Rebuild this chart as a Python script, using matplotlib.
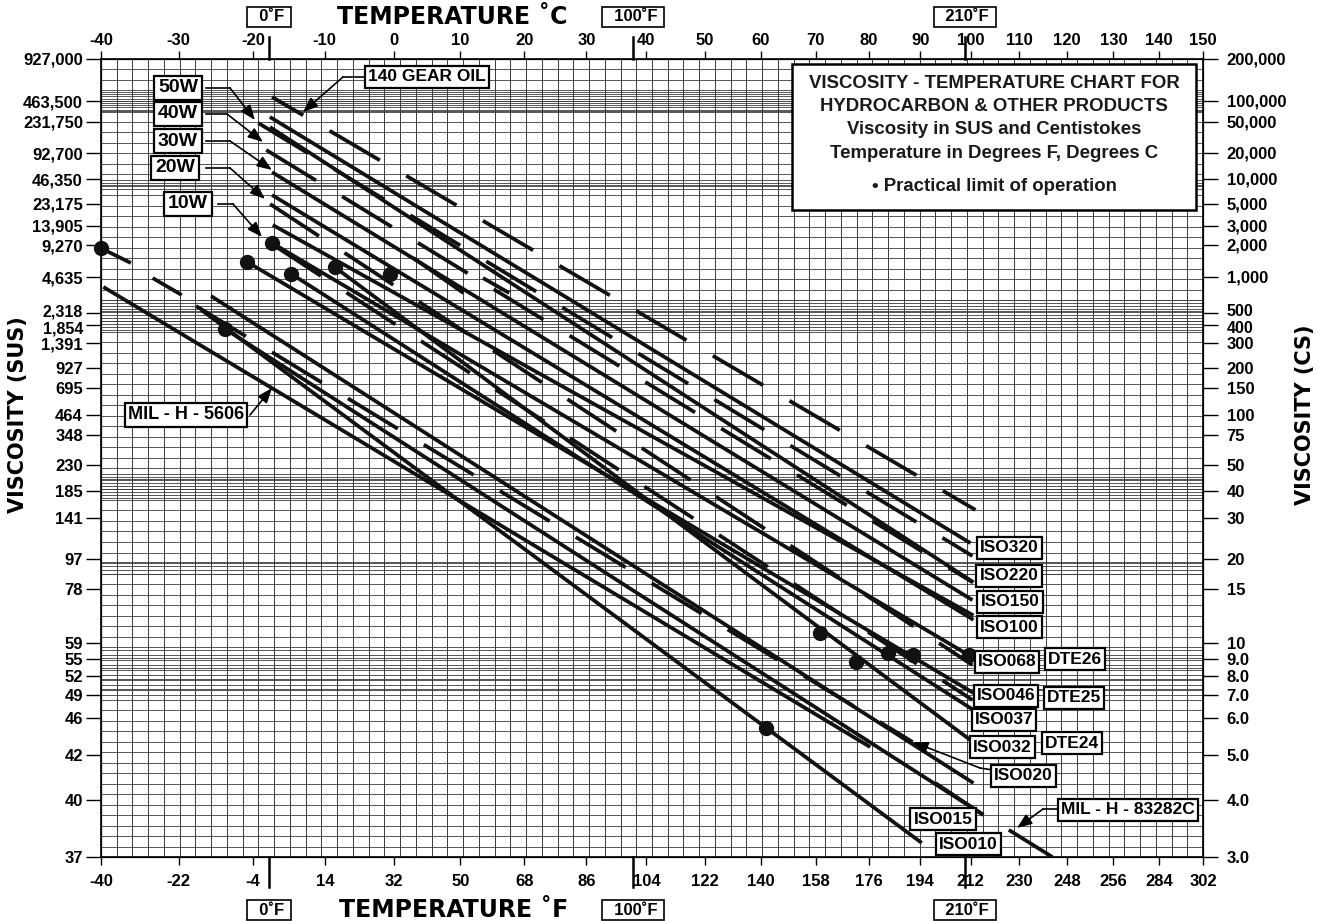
import numpy as np
import matplotlib
matplotlib.use("Agg")
import matplotlib.pyplot as plt
from matplotlib.transforms import ScaledTranslation

plt.rcParams['lines.scale_dashes'] = False
TXT = 'Liberation Sans'      # Arial-like bold for numbers and tags
HEAD = 'DejaVu Sans'         # wide heavy face for the axis titles

# axis tick values
temp_c = [-40, -30, -20, -10, 0, 10, 20, 30, 40, 50, 60, 70, 80, 90, 100, 110, 120, 130, 140, 150]
temp_f_labels = ['-40', '-22', '-4', '14', '32', '50', '68', '86', '104', '122', '140', '158',
                 '176', '194', '212', '230', '248', '256', '284', '302']
cs_ticks = [3, 4, 5, 6, 7, 8, 9, 10, 15, 20, 30, 40, 50, 75, 100, 150, 200, 300, 400, 500,
            1000, 2000, 3000, 5000, 10000, 20000, 50000, 100000, 200000]
cs_labels = ['3.0', '4.0', '5.0', '6.0', '7.0', '8.0', '9.0', '10', '15', '20', '30', '40', '50',
             '75', '100', '150', '200', '300', '400', '500', '1,000', '2,000', '3,000', '5,000',
             '10,000', '20,000', '50,000', '100,000', '200,000']
sus_labels = ['37', '40', '42', '46', '49', '52', '55', '59', '78', '97', '141', '185', '230',
              '348', '464', '695', '927', '1,391', '1,854', '2,318', '4,635', '9,270', '13,905',
              '23,175', '46,350', '92,700', '231,750', '463,500', '927,000']
# the printed viscosity scale is hand drawn: relative height of each CS tick
cs_scale_pos = [0, 57, 102, 139, 162, 181, 198, 214, 268, 298, 339, 366, 392, 422, 442, 469,
                489, 514, 532, 544, 580, 612, 631, 653, 678, 704, 735, 756, 798]

# solid product lines (deg C, cSt): start -> end
long_t0 = [-17.7, -17.7, -17.4, -17.4, -17.3, -17.4, -20.8, -14.7, -8.6, -25.7, -23.8, -27.0, -39.7]
long_v0 = [59000, 43100, 12000, 6410, 3070, 2087, 1384, 1067, 1241, 693, 375, 530, 825]
long_t1 = [100.0, 100.6, 100.4, 100.6, 100.6, 99.6, 100.6, 100.6, 100.0, 100.6, 102.6, 90.3, 80.3]
long_v1 = [23.4, 16.0, 13.8, 11.9, 12.3, 9.24, 7.10, 6.33, 5.38, 4.35, 3.71, 3.22, 5.2]

# dashed product lines: 140 gear oil, 50W, 40W, 20W, 10W, low-temperature fluid
dash_t0 = [-17.4, -19.3, -18.2, -18.3, -18.7, -27.7]
dash_v0 = [106800, 48500, 21860, 5430, 2322, 572]
dash_t1 = [101.0, 100.4, 100.4, 100.4, 100.4, 88.5]
dash_v1 = [32.7, 20.6, 16.0, 8.63, 6.77, 5.33]
dash_phase = [16, 0, 0, 60, 56, 0]

# loose short segments (deg C, cSt)
short_t0 = [2.9, 13.5, 107.8, 93.0, -39.8, -33.4]
short_v0 = [1510, 981, 3.44, 4.35, 1834, 981]
short_t1 = [10.5, 17.6, 116.9, 102.6, -36.2, -29.6]
short_v1 = [735, 735, 3.0, 3.71, 1355, 707]

# practical limit of operation
dot_t = [-40.0, -20.8, -17.4, -14.7, -8.6, -0.5, -23.8, 70.9, 77.6, 83.8, 88.6, 99.6, 61.0]
dot_v = [1875, 1384, 2087, 1067, 1241, 1067, 375, 10.8, 8.82, 9.36, 9.24, 9.24, 5.71]


def fwd_t(t):
    return np.log10(np.asarray(t, dtype=float) + 273.15)


def inv_t(u):
    return 10 ** np.asarray(u, dtype=float) - 273.15


def fwd_v(v):
    v = np.clip(np.asarray(v, dtype=float), 1e-6, None)
    return np.interp(np.log10(v), np.log10(cs_ticks), cs_scale_pos)


def inv_v(p):
    return 10 ** np.interp(np.asarray(p, dtype=float), cs_scale_pos, np.log10(cs_ticks))


W, H = 1322, 921
fig = plt.figure(figsize=(W / 100, H / 100), dpi=100)
L, R, T, B = 101, 1203, 59, 857
ax = fig.add_axes([L / W, 1 - B / H, (R - L) / W, (B - T) / H])
ax.set_xscale('function', functions=(fwd_t, inv_t))
ax.set_yscale('function', functions=(fwd_v, inv_v))
ax.set_xlim(-40, 150)
ax.set_ylim(3, 200000)


def px(x, y):
    # figure pixel (from top-left) -> axes fraction, for annotation layout
    return ((x - L) / (R - L), (B - y) / (B - T))


# graph paper
for xf in np.linspace(0, 1, 71):
    ax.plot([xf, xf], [0, 1], transform=ax.transAxes, color='#3a3a3a', lw=0.7, zorder=1)
hy = list(np.linspace(0, 1, 77))
for y0, y1, step in [(92, 112, 2.2), (180, 192, 3), (300, 332, 3), (474, 500, 3), (562, 576, 4), (650, 700, 5)]:
    for yy in np.arange(y0, y1, step):
        hy.append(px(L, yy)[1])
for yf in hy:
    ax.plot([0, 1], [yf, yf], transform=ax.transAxes, color='#3a3a3a', lw=0.6, zorder=1)

# lines and limit dots
for t0, v0, t1, v1 in zip(long_t0 + short_t0, long_v0 + short_v0, long_t1 + short_t1, long_v1 + short_v1):
    ax.plot([t0, t1], [v0, v1], color='#111111', lw=2.7, solid_capstyle='butt', zorder=3)
for t0, v0, t1, v1, ph in zip(dash_t0, dash_v0, dash_t1, dash_v1, dash_phase):
    ax.plot([t0, t1], [v0, v1], color='#111111', lw=2.7, dash_capstyle='butt',
            linestyle=(ph, (42, 22)), zorder=3)
ax.plot(dot_t, dot_v, 'o', color='#111111', ms=10, zorder=4, clip_on=False)

# ticks
ax.set_yticks(cs_ticks, sus_labels)
ax.set_xticks(temp_c, temp_f_labels)
ax.minorticks_off()
for s in ax.spines.values():
    s.set_linewidth(1.2)
ax.tick_params(axis='y', length=11, width=1, pad=2, labelsize=12)
ax.tick_params(axis='x', length=6, width=1, pad=6, labelsize=12)

ax2 = ax.twinx()
ax2.set_yscale('function', functions=(fwd_v, inv_v))
ax2.set_ylim(3, 200000)
ax2.set_yticks(cs_ticks, cs_labels)
ax2.minorticks_off()
ax2.tick_params(axis='y', length=11, width=1, pad=6, labelsize=12)
ax3 = ax.twiny()
ax3.set_xscale('function', functions=(fwd_t, inv_t))
ax3.set_xlim(-40, 150)
ax3.set_xticks(temp_c, [str(t) for t in temp_c])
ax3.minorticks_off()
ax3.tick_params(axis='x', length=6, width=1, pad=2, labelsize=12)
for lab in ax.get_xticklabels() + ax.get_yticklabels() + ax2.get_yticklabels() + ax3.get_xticklabels():
    lab.set_fontfamily(TXT)
    lab.set_fontweight('bold')
# the 400/500 pair sits very close: nudge apart
for labs in (ax.get_yticklabels(), ax2.get_yticklabels()):
    for i, dy in ((19, 2.5), (18, -2.5)):
        labs[i].set_fontsize(11.5)
        labs[i].set_transform(labs[i].get_transform() + ScaledTranslation(0, dy / 100, fig.dpi_scale_trans))

# 0F, 100F, 210F markers with boxed labels
tr = ax.get_xaxis_transform()
for tf, lbl in [(0, '0˚F'), (100, '100˚F'), (210, '210˚F')]:
    tc = (tf - 32) / 1.8
    ax.plot([tc, tc], [1, 1 + 22 / 798], transform=tr, color='k', lw=1.8, clip_on=False)
    ax.plot([tc, tc], [0, -30 / 798], transform=tr, color='k', lw=1.8, clip_on=False)
    for yy in (17, 910):
        ax.text(tc, px(0, yy)[1], '  ' + lbl + ' ', transform=tr, ha='center', va='center',
                fontsize=12, fontweight='bold', family=TXT, clip_on=False,
                bbox=dict(boxstyle='square,pad=0.15', fc='white', ec='k', lw=1.2))

fig.text(452 / W, 1 - 17 / H, 'TEMPERATURE ˚C', ha='center', va='center', fontsize=17,
         fontweight='bold', family=HEAD)
fig.text(454 / W, 1 - 910 / H, 'TEMPERATURE ˚F', ha='center', va='center', fontsize=17,
         fontweight='bold', family=HEAD)
fig.text(18 / W, 1 - 415 / H, 'VISCOSITY (SUS)', rotation=90, ha='center', va='center',
         fontsize=15, fontweight='bold', family=HEAD)
fig.text(1305 / W, 1 - 415 / H, 'VISCOSITY (CS)', rotation=90, ha='center', va='center',
         fontsize=15, fontweight='bold', family=HEAD)

# title box
ax.add_patch(plt.Rectangle(px(792, 210), 404 / (R - L), 146 / (B - T), transform=ax.transAxes,
                           fc='white', ec='k', lw=1.8, zorder=5))
for yy, txt in [(84, 'VISCOSITY - TEMPERATURE CHART FOR'), (107, 'HYDROCARBON & OTHER PRODUCTS'),
                (130, 'Viscosity in SUS and Centistokes'), (153, 'Temperature in Degrees F, Degrees C'),
                (187, '• Practical limit of operation')]:
    ax.text(*px(994, yy), txt, transform=ax.transAxes, ha='center', va='center', fontsize=13.4,
            fontweight='bold', family=TXT, color='#1a1a1a', zorder=6)

# product tags
box = dict(boxstyle='square,pad=0.18', fc='white', ec='k', lw=1.6)
tags = [('ISO320', 1009, 548), ('ISO220', 1009, 576), ('ISO150', 1010, 602), ('ISO100', 1009, 627),
        ('ISO068', 1007, 662), ('DTE26', 1075, 659), ('ISO046', 1006, 696), ('DTE25', 1074, 698),
        ('ISO037', 1004, 720), ('ISO032', 1002, 747), ('DTE24', 1072, 743), ('ISO020', 1023, 776),
        ('ISO015', 943, 819), ('ISO010', 968, 844)]
for txt, x, y in tags:
    ax.text(*px(x, y), txt, transform=ax.transAxes, ha='center', va='center', fontsize=12.5,
            fontweight='bold', family=TXT, bbox=box, zorder=7)

arrow = dict(arrowstyle='-|>,head_length=0.9,head_width=0.35', color='k', lw=1.2, shrinkA=0, shrinkB=0)
# tags with leader arrows: text, box centre, box right edge, elbow, arrow tip
leaders = [('50W', 178, 88, 206, 230, 255, 120), ('40W', 178, 114, 206, 227, 263, 142),
           ('30W', 178, 141, 206, 230, 272, 170), ('20W', 175, 168, 206, 230, 265, 199),
           ('10W', 188, 204, 218, 233, 262, 237)]
for txt, bx, by, edge, ex, tx, ty in leaders:
    ax.text(*px(bx, by), txt, transform=ax.transAxes, ha='center', va='center', fontsize=14,
            fontweight='bold', family=TXT, zorder=7,
            bbox=dict(boxstyle='square,pad=0.2', fc='white', ec='k', lw=1.6))
    ax.plot(*zip(px(edge, by), px(ex, by)), transform=ax.transAxes, color='k', lw=1.2, zorder=6)
    ax.annotate('', xy=px(tx, ty), xytext=px(ex, by), xycoords='axes fraction',
                textcoords='axes fraction', arrowprops=arrow, zorder=6)

ax.text(*px(427, 77), '140 GEAR OIL', transform=ax.transAxes, ha='center', va='center', fontsize=12.5,
        fontweight='bold', family=TXT, bbox=box, zorder=7)
ax.plot(*zip(px(364, 77), px(343, 77)), transform=ax.transAxes, color='k', lw=1.2, zorder=6)
ax.annotate('', xy=px(303, 112), xytext=px(343, 77), xycoords='axes fraction',
            textcoords='axes fraction', arrowprops=arrow, zorder=6)
ax.text(*px(186, 415), 'MIL - H - 5606', transform=ax.transAxes, ha='center', va='center',
        fontsize=13, fontweight='bold', family=TXT, bbox=box, zorder=7)
ax.annotate('', xy=px(272, 388), xytext=px(250, 415), xycoords='axes fraction',
            textcoords='axes fraction', arrowprops=arrow, zorder=6)
ax.text(*px(1128, 810), 'MIL - H - 83282C', transform=ax.transAxes, ha='center', va='center',
        fontsize=12.5, fontweight='bold', family=TXT, bbox=box, zorder=7)
ax.plot(*zip(px(1060, 809), px(1043, 809)), transform=ax.transAxes, color='k', lw=1.2, zorder=6)
ax.annotate('', xy=px(1017, 828), xytext=px(1043, 809), xycoords='axes fraction',
            textcoords='axes fraction', arrowprops=arrow, zorder=6)
ax.plot(*zip(px(993, 770), px(980, 768)), transform=ax.transAxes, color='k', lw=1.2, zorder=6)
ax.annotate('', xy=px(913, 742), xytext=px(980, 768), xycoords='axes fraction',
            textcoords='axes fraction', arrowprops=arrow, zorder=6)

fig.savefig('out.png', dpi=100)
